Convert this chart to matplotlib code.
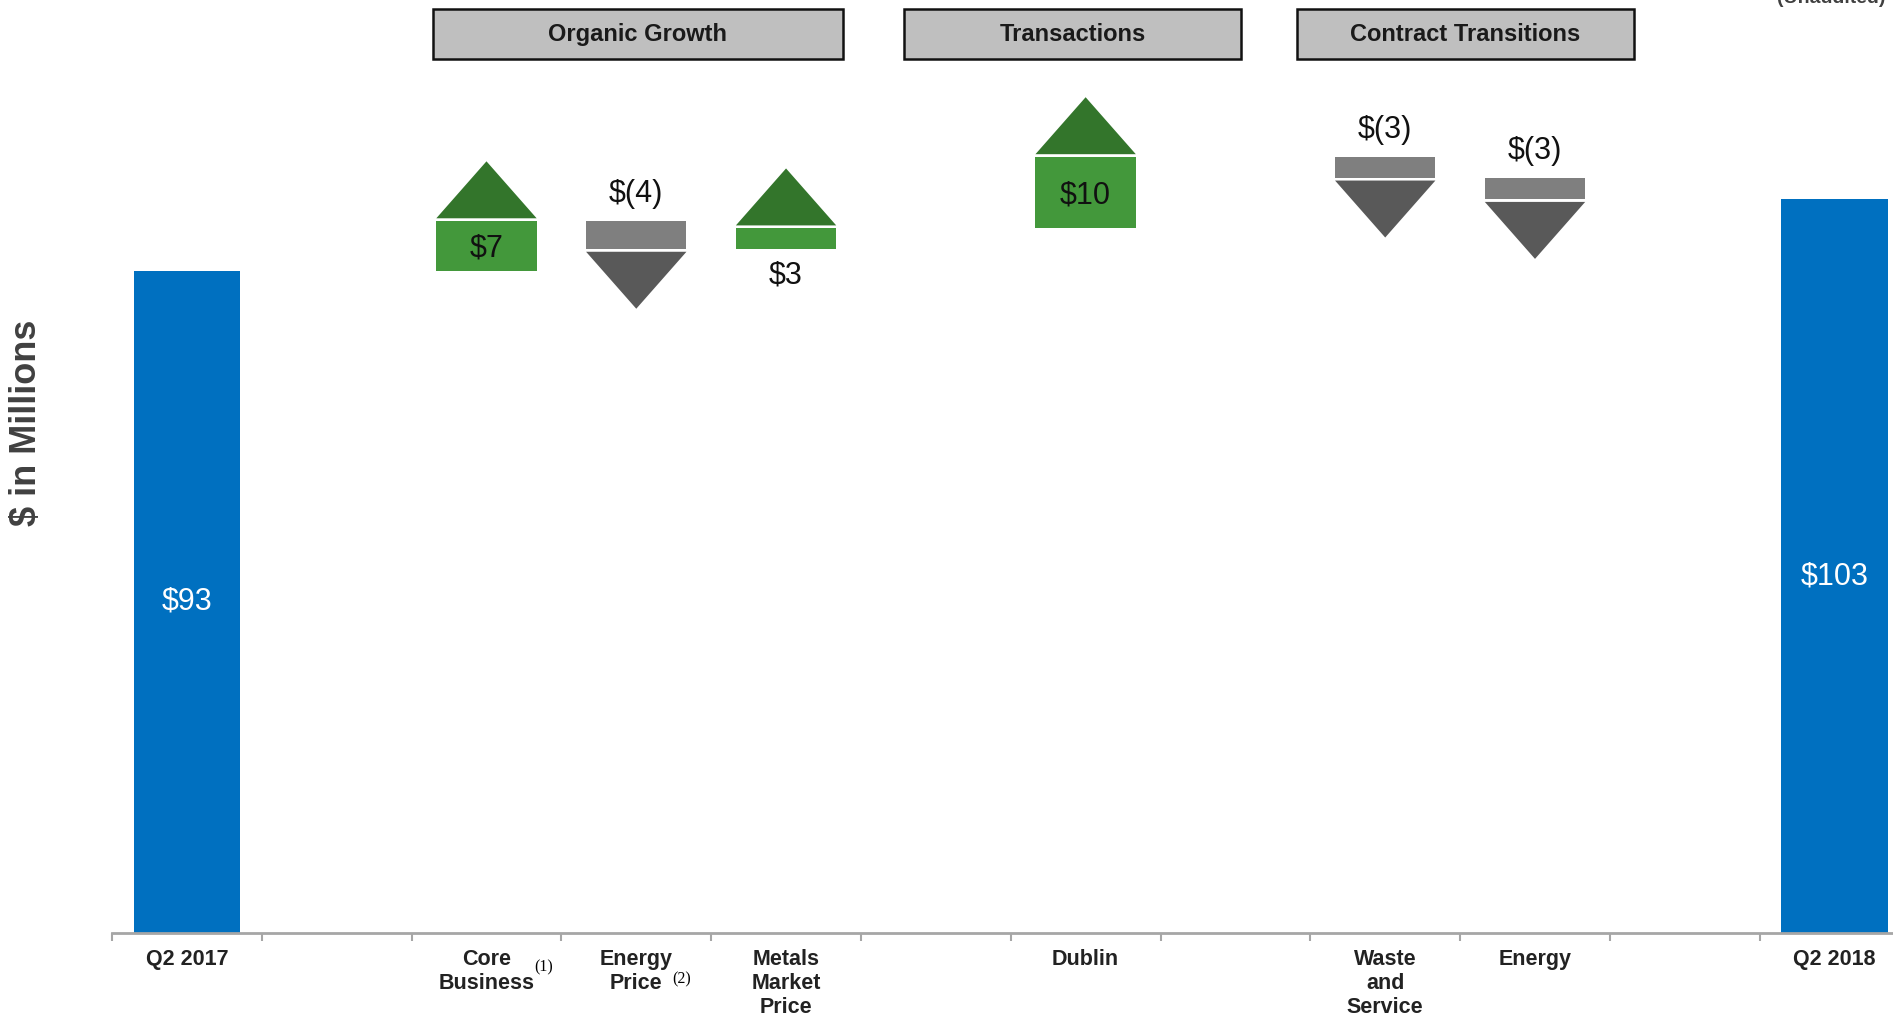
import matplotlib
matplotlib.use('Agg')
import matplotlib.pyplot as plt
from matplotlib.patches import Rectangle

plt.rcParams['font.family'] = ['Liberation Sans', 'DejaVu Sans']

# slot labels along the axis ('' = spacer slot)
slot_labels = ['Q2 2017', '', 'Core\nBusiness', 'Energy\nPrice', 'Metals\nMarket\nPrice', '',
               'Dublin', '', 'Waste\nand\nService', 'Energy', '', 'Q2 2018']

start_total = 93
end_total = 103
start_label = '$93'
end_label = '$103'

step_slots = [2, 3, 4, 6, 8, 9]
step_values = [7, -4, 3, 10, -3, -3]
step_labels = ['$7', '$(4)', '$3', '$10', '$(3)', '$(3)']

group_names = ['Organic Growth', 'Transactions', 'Contract Transitions']
group_spans = [(1.64, 4.38), (4.79, 7.04), (7.41, 9.66)]

BLUE = '#0070C0'
GREEN = '#43983B'
GREEN_DARK = '#33752B'
GRAY = '#7F7F7F'
GRAY_DARK = '#595959'

fig = plt.figure(figsize=(18.93, 10.23), dpi=100)
ax = fig.add_axes([112 / 1893, 90 / 1023, 1 - 112 / 1893, 933 / 1023])
ax.set_xlim(-0.5, 11.39)
ax.set_ylim(0, 131)

# total bars
last = len(slot_labels) - 1
ax.bar([0, last], [start_total, end_total], width=0.71, color=BLUE, zorder=2)
ax.text(0, start_total / 2, start_label, color='white', fontsize=22, ha='center', va='center')
ax.text(last, end_total / 2 - 1.5, end_label, color='white', fontsize=22, ha='center', va='center')

# step boxes with arrows
w = 0.67
gap = 0.35
tri_h = 8.0
total = start_total
for x, v, lab in zip(step_slots, step_values, step_labels):
    new = total + v
    lo, hi = min(total, new), max(total, new)
    if v > 0:
        ax.bar(x, v, bottom=total, width=w, color=GREEN, zorder=2)
        base = hi + gap
        ax.fill([x - w / 2, x + w / 2, x], [base, base, base + tri_h], color=GREEN_DARK, lw=0)
        if v >= 5:
            ax.text(x, (lo + hi) / 2 - 0.4, lab, fontsize=22, ha='center', va='center', color='#111111')
        else:
            ax.text(x, lo - 3.7, lab, fontsize=22, ha='center', va='center', color='#111111')
    else:
        ax.bar(x, v, bottom=total, width=w, color=GRAY, zorder=2)
        base = lo - gap
        ax.fill([x - w / 2, x + w / 2, x], [base, base, base - tri_h], color=GRAY_DARK, lw=0)
        ax.text(x, hi + 3.8, lab, fontsize=22, ha='center', va='center', color='#111111')
    total = new

# group header boxes
for name, (x0, x1) in zip(group_names, group_spans):
    ax.add_patch(Rectangle((x0, 122.7), x1 - x0, 7.0, facecolor='#BFBFBF', edgecolor='#111111',
                           lw=1.8, clip_on=False, zorder=3))
    ax.text((x0 + x1) / 2, 126.1, name, fontsize=17, fontweight='bold', ha='center', va='center',
            color='#1a1a1a', zorder=4)

# axes styling
for s in ['top', 'right', 'left']:
    ax.spines[s].set_visible(False)
ax.spines['bottom'].set_color('#A6A6A6')
ax.spines['bottom'].set_linewidth(2)
ax.set_yticks([])
ax.set_xticks(range(len(slot_labels)))
ax.set_xticklabels(slot_labels, fontsize=15.5, fontweight='bold', color='#222222', linespacing=1.2)
ax.set_xticks([i - 0.5 for i in range(len(slot_labels))], minor=True)
ax.tick_params(axis='x', which='major', length=0, pad=11.5)
ax.tick_params(axis='x', which='minor', length=6, width=1.5, color='#A6A6A6', direction='out')

# footnote markers
ax.text(2.38, -4.8, '(1)', fontsize=11.5, family=['Liberation Serif', 'DejaVu Serif'],
        ha='center', va='center', clip_on=False)
ax.text(3.3, -6.5, '(2)', fontsize=11.5, family=['Liberation Serif', 'DejaVu Serif'],
        ha='center', va='center', clip_on=False)

fig.text(22 / 1568, 1 - 350 / 847, '$ in Millions', rotation=90, fontsize=26, fontweight='bold',
         color='#404040', ha='center', va='center')
fig.text(1885 / 1893, 1 - 3 / 1023, '(Unaudited)', fontsize=14, fontweight='bold',
         color='#404040', ha='right', va='baseline')

fig.savefig('out.png', dpi=100)
